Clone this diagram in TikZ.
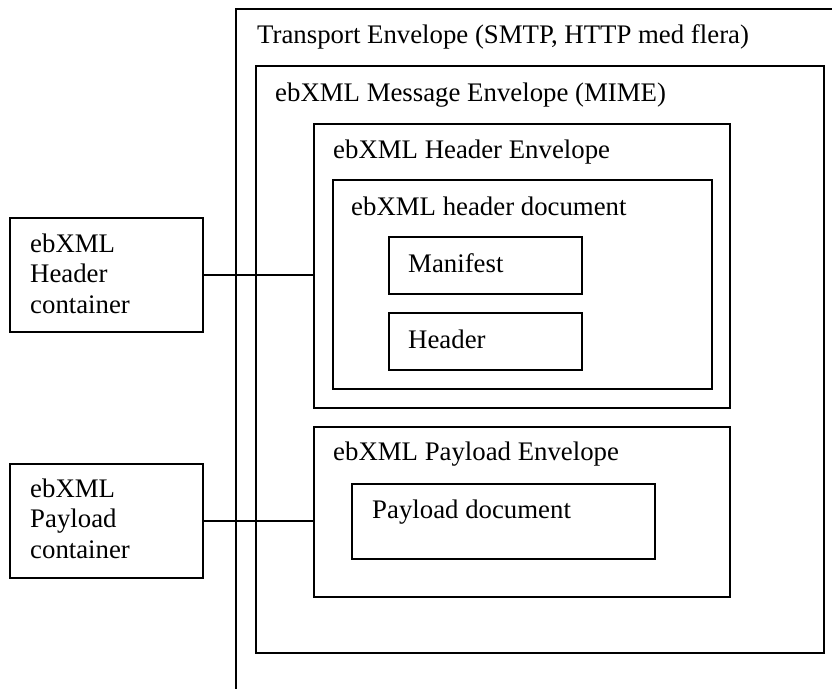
\documentclass[tikz,border=0pt]{standalone}
\usepackage{fontspec}
\setmainfont{Liberation Serif}
\begin{document}
\begin{tikzpicture}[x=1pt,y=-1pt,
  box/.style={draw=black,line width=1.6pt,fill=none},
  conn/.style={draw=black,line width=1.6pt},
  lbl/.style={inner sep=0pt,anchor=base west,font=\fontsize{26.8}{30.5}\selectfont},
  mlbl/.style={inner sep=0pt,anchor=base west,align=left,font=\fontsize{26.8}{30.5}\selectfont}]
\useasboundingbox (0,0) rectangle (832,689);
% transport envelope (open to the right and bottom)
\coordinate (trTR) at (832,9);
\coordinate (trTL) at (236,9);
\coordinate (trBL) at (236,689);
\draw[conn] (trTR) -- (trTL) -- (trBL);
\node[lbl] (trtext) at (257,43) {Transport Envelope (SMTP, HTTP med flera)};
% message envelope
\draw[box] (256,66) rectangle (824,653);
\node[lbl] (msgtext) at (275,101) {ebXML Message Envelope (MIME)};
% header envelope
\node[box,inner sep=0pt,anchor=north west,minimum width=416pt,minimum height=284pt] (hdrenv) at (313,123) {};
\node[lbl] (hdrenvtext) at (333,158) {ebXML Header Envelope};
% header document
\node[box,inner sep=0pt,anchor=north west,minimum width=379pt,minimum height=209pt] (hdrdoc) at (332,179) {};
\node[lbl] (hdrdoctext) at (351,215) {ebXML header document};
% manifest
\node[box,inner sep=0pt,anchor=north west,minimum width=193pt,minimum height=57pt] (manifest) at (388,236) {};
\node[lbl] (manifesttext) at (408,272) {Manifest};
% header
\node[box,inner sep=0pt,anchor=north west,minimum width=193pt,minimum height=57pt] (header) at (388,312) {};
\node[lbl] (headertext) at (408,348) {Header};
% payload envelope
\node[box,inner sep=0pt,anchor=north west,minimum width=416pt,minimum height=170pt] (payenv) at (313,426) {};
\node[lbl] (payenvtext) at (333,460) {ebXML Payload Envelope};
% payload document
\node[box,inner sep=0pt,anchor=north west,minimum width=303pt,minimum height=75pt] (paydoc) at (351,483) {};
\node[lbl] (paydoctext) at (372,518) {Payload document};
% containers
\node[box,inner sep=0pt,anchor=north west,minimum width=193pt,minimum height=114pt] (hcont) at (9,217) {};
\node[mlbl] (hconttext) at (30,313) {ebXML\\Header\\container};
\node[box,inner sep=0pt,anchor=north west,minimum width=193pt,minimum height=114pt] (pcont) at (9,463) {};
\node[mlbl] (pconttext) at (30,558) {ebXML\\Payload\\container};
% connectors
\draw[conn] (hcont.east) -- (hcont.east -| hdrenv.west);
\draw[conn] (pcont.east) -- (pcont.east -| payenv.west);
\end{tikzpicture}
\end{document}
